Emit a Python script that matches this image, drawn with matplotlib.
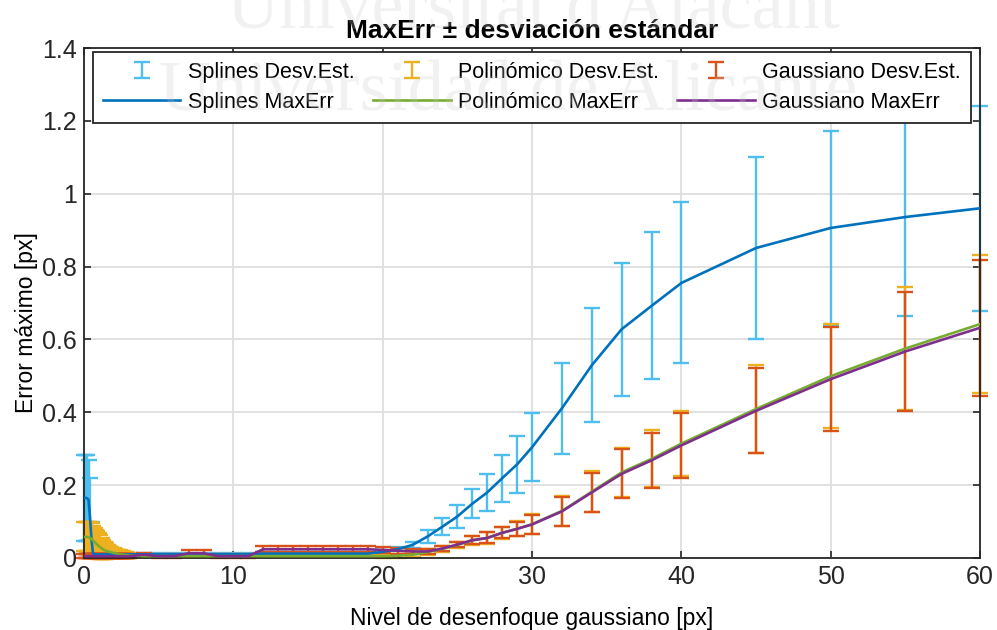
import matplotlib
matplotlib.use("Agg")
import matplotlib.pyplot as plt
from matplotlib.ticker import FuncFormatter
from matplotlib.legend_handler import HandlerErrorbar
from matplotlib.container import ErrorbarContainer

plt.rcParams["font.family"] = ["Liberation Sans", "DejaVu Sans"]

# Nivel de desenfoque (x)
nivel = [0.0, 0.1, 0.2, 0.3, 0.4, 0.5, 0.6, 0.7, 0.8, 0.9,
         1.0, 1.1, 1.2, 1.3, 1.4, 1.5, 1.6, 1.7, 1.8, 1.9,
         2.0, 2.1, 2.2, 2.3, 2.4, 2.5, 2.6, 2.7, 2.8, 2.9, 3.0,
         4, 5, 6, 7, 8, 9, 10, 11,
         12, 13, 14, 15, 16, 17, 18, 19,
         20, 21, 22, 23, 24, 25, 26, 27, 28, 29, 30,
         32, 34, 36, 38, 40, 45, 50, 55, 60]

# Splines
splines_max = [0.165, 0.165, 0.164, 0.160, 0.110, 0.050, 0.012, 0.010, 0.010, 0.010,
               0.010, 0.010, 0.010, 0.010, 0.010, 0.010, 0.010, 0.010, 0.010, 0.010,
               0.010, 0.010, 0.010, 0.010, 0.010, 0.010, 0.010, 0.010, 0.010, 0.010, 0.010,
               0.010, 0.010, 0.010, 0.010, 0.010, 0.010, 0.010, 0.010,
               0.012, 0.012, 0.012, 0.012, 0.012, 0.012, 0.012, 0.012,
               0.017, 0.024, 0.036, 0.059, 0.086, 0.114, 0.149, 0.180, 0.219, 0.257, 0.304,
               0.411, 0.529, 0.628, 0.692, 0.755, 0.851, 0.906, 0.936, 0.960]
splines_std = [0.118, 0.118, 0.118, 0.110, 0.110, 0.050, 0.012, 0.008, 0.005, 0.004,
               0.004, 0.004, 0.004, 0.004, 0.004, 0.004, 0.004, 0.004, 0.004, 0.004,
               0.004, 0.004, 0.004, 0.004, 0.004, 0.004, 0.004, 0.004, 0.004, 0.004, 0.004,
               0.004, 0.004, 0.004, 0.004, 0.004, 0.004, 0.004, 0.004,
               0.005, 0.005, 0.005, 0.005, 0.005, 0.005, 0.005, 0.005,
               0.005, 0.006, 0.008, 0.019, 0.023, 0.031, 0.040, 0.051, 0.064, 0.078, 0.093,
               0.125, 0.157, 0.183, 0.202, 0.221, 0.249, 0.266, 0.272, 0.281]

# Polinomico
poli_max = [0.058, 0.058, 0.058, 0.057, 0.055, 0.052, 0.048, 0.044, 0.040, 0.036,
            0.032, 0.029, 0.026, 0.023, 0.021, 0.019, 0.018, 0.017, 0.016, 0.015,
            0.014, 0.013, 0.012, 0.011, 0.010, 0.010, 0.009, 0.009, 0.008, 0.008, 0.007,
            0.005, 0.005, 0.005, 0.005, 0.005, 0.005, 0.005, 0.005,
            0.005, 0.005, 0.005, 0.005, 0.005, 0.005, 0.005, 0.005,
            0.005, 0.006, 0.009, 0.016, 0.025, 0.036, 0.048, 0.055, 0.069, 0.080, 0.093,
            0.129, 0.182, 0.235, 0.272, 0.314, 0.409, 0.499, 0.575, 0.642]
poli_std = [0.040, 0.040, 0.040, 0.041, 0.043, 0.043, 0.040, 0.038, 0.037, 0.037,
            0.036, 0.033, 0.029, 0.026, 0.023, 0.021, 0.018, 0.016, 0.014, 0.013,
            0.013, 0.012, 0.011, 0.011, 0.011, 0.009, 0.009, 0.008, 0.008, 0.007, 0.007,
            0.003, 0.003, 0.003, 0.003, 0.003, 0.003, 0.003, 0.003,
            0.003, 0.003, 0.003, 0.003, 0.003, 0.003, 0.003, 0.003,
            0.004, 0.005, 0.007, 0.009, 0.009, 0.009, 0.011, 0.016, 0.016, 0.021, 0.027,
            0.040, 0.056, 0.068, 0.078, 0.090, 0.120, 0.143, 0.170, 0.190]

# Gaussiano
gauss_max = [0.006, 0.005, 0.005, 0.005, 0.005, 0.005, 0.005, 0.005, 0.005, 0.005,
             0.005, 0.005, 0.005, 0.005, 0.005, 0.005, 0.005, 0.005, 0.005, 0.005,
             0.005, 0.005, 0.005, 0.005, 0.005, 0.005, 0.005, 0.005, 0.005, 0.005, 0.005,
             0.009, 0.005, 0.005, 0.013, 0.013, 0.005, 0.005, 0.005,
             0.024, 0.024, 0.024, 0.024, 0.024, 0.024, 0.024, 0.024,
             0.022, 0.020, 0.018, 0.018, 0.026, 0.037, 0.049, 0.055, 0.069, 0.080, 0.092,
             0.128, 0.180, 0.231, 0.268, 0.309, 0.404, 0.491, 0.567, 0.632]
gauss_std = [0.006, 0.006, 0.006, 0.006, 0.006, 0.006, 0.006, 0.006, 0.006, 0.006,
             0.006, 0.006, 0.006, 0.006, 0.006, 0.006, 0.006, 0.006, 0.006, 0.006,
             0.006, 0.006, 0.006, 0.006, 0.006, 0.006, 0.006, 0.006, 0.006, 0.006, 0.006,
             0.006, 0.005, 0.005, 0.008, 0.008, 0.005, 0.005, 0.005,
             0.008, 0.008, 0.008, 0.008, 0.008, 0.008, 0.008, 0.008,
             0.008, 0.008, 0.008, 0.008, 0.008, 0.008, 0.010, 0.015, 0.015, 0.020, 0.026,
             0.039, 0.054, 0.067, 0.076, 0.089, 0.117, 0.142, 0.164, 0.186]

series = [
    ("Splines", splines_max, splines_std, "#4DBEEE", "#0072BD"),
    ("Polinómico", poli_max, poli_std, "#EDB120", "#77AC30"),
    ("Gaussiano", gauss_max, gauss_std, "#D95319", "#7E2F8E"),
]

fig = plt.figure(figsize=(9.97, 6.30), dpi=100)
ax = fig.add_axes([0.0843, 0.1143, 0.8987, 0.8095])

# barras de desviacion primero, luego las lineas de MaxErr
err_handles = {}
for name, m, s, c_err, _ in series:
    eb = ax.errorbar(nivel, m, yerr=s, fmt="none", ecolor=c_err, elinewidth=1.7,
                     capsize=6, capthick=1.7, zorder=2)
    for art in eb.lines[1] + eb.lines[2]:
        art.set_clip_on(False)
    err_handles[name] = eb

line_handles = {}
for name, m, s, _, c_line in series:
    ln, = ax.plot(nivel, m, color=c_line, lw=1.9, zorder=3)
    line_handles[name] = ln

handles, labels = [], []
for name, *_ in series:
    handles += [err_handles[name], line_handles[name]]
    labels += [f"{name} Desv.Est.", f"{name} MaxErr"]

ax.set_xlim(0, 60)
ax.set_ylim(0, 1.4)
ax.set_xticks(range(0, 61, 10))
ax.set_yticks([0, 0.2, 0.4, 0.6, 0.8, 1.0, 1.2, 1.4])
ax.yaxis.set_major_formatter(FuncFormatter(lambda v, p: f"{v:g}"))
ax.grid(True, color="#dedede", lw=1.3)
ax.set_axisbelow(True)
ax.tick_params(direction="in", length=5, width=1.2, top=True, right=True,
               labelsize=18, colors="#262626", labelcolor="#262626", pad=5)
for sp in ax.spines.values():
    sp.set_color("#262626")
    sp.set_linewidth(1.3)

ax.set_title("MaxErr ± desviación estándar", fontsize=19, fontweight="bold", pad=7)
ax.set_xlabel("Nivel de desenfoque gaussiano [px]", fontsize=16.5)
ax.set_ylabel("Error máximo [px]", fontsize=16.5)
ax.xaxis.set_label_coords(0.5, -0.097)
ax.yaxis.set_label_coords(-0.051, 0.461)

leg = ax.legend(handles, labels, ncol=3, loc="upper center",
                bbox_to_anchor=(0.5, 0.992), borderaxespad=0,
                fontsize=15.5, handlelength=3.6,
                columnspacing=0.85, handletextpad=0.35, labelspacing=0.42,
                fancybox=False, framealpha=1, edgecolor="#262626",
                borderpad=0.45,
                handler_map={ErrorbarContainer: HandlerErrorbar(xerr_size=0.37)})
leg.get_frame().set_linewidth(1.3)
leg.set_zorder(5)

# marca de agua
fig.text(0.535, 0.955, "Universitat d'Alacant", ha="center", va="baseline",
         fontsize=52, family=["Liberation Serif", "DejaVu Serif"],
         color="#c8c8c8", alpha=0.25, zorder=10)
fig.text(0.51, 0.825, "Universidad de Alicante", ha="center", va="baseline",
         fontsize=52, family=["Liberation Serif", "DejaVu Serif"],
         color="#c8c8c8", alpha=0.25, zorder=10)

fig.savefig("out.png", dpi=100)
